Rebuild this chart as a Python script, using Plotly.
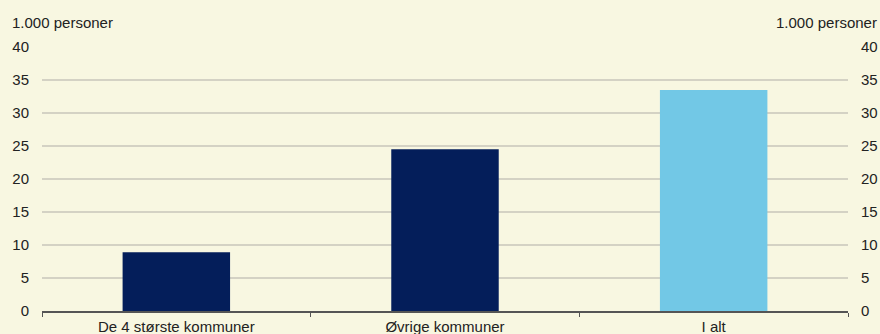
import plotly.graph_objects as go

categories = ["De 4 største kommuner", "Øvrige kommuner", "I alt"]
values = [8.9, 24.5, 33.5]
bar_colors = ["#041E5A", "#041E5A", "#72C8E6"]
y_ticks = [0, 5, 10, 15, 20, 25, 30, 35, 40]
unit_label = "1.000 personer"

bg = "#F8F7E1"
grid = "#D4D2C4"
font = dict(family="Liberation Sans, Arial, sans-serif", size=15, color="#222222")

fig = go.Figure()
fig.add_trace(go.Bar(x=categories, y=values, marker=dict(color=bar_colors, line=dict(width=0)),
                     width=0.4, showlegend=False, hoverinfo="x+y"))
fig.add_trace(go.Scatter(x=categories, y=values, yaxis="y2", mode="markers",
                         marker=dict(opacity=0), showlegend=False, hoverinfo="skip"))

axis_common = dict(range=[0, 40], tickvals=y_ticks, ticks="", tickfont=font,
                   fixedrange=True, zeroline=False, automargin=False)
fig.update_layout(
    width=880, height=334,
    margin=dict(l=42, r=32, t=47, b=23),
    paper_bgcolor=bg, plot_bgcolor=bg,
    font=font,
    bargap=0.6,
    xaxis=dict(showline=True, linecolor="#555555", linewidth=1.5,
               ticks="outside", tickson="boundaries", ticklen=4, tickcolor="#555555",
               tickfont=font, showgrid=False, fixedrange=True, ticklabelstandoff=1,
               automargin=False),
    yaxis=dict(showgrid=True, gridcolor=grid, gridwidth=1.5, ticklabelstandoff=12, **axis_common),
    yaxis2=dict(overlaying="y", side="right", showgrid=False, ticklabelstandoff=12, **axis_common),
    annotations=[
        dict(text=unit_label, xref="paper", yref="paper", x=0, y=1, xshift=-32, yshift=14,
             xanchor="left", yanchor="bottom", showarrow=False, font=font),
        dict(text=unit_label, xref="paper", yref="paper", x=1, y=1, xshift=31, yshift=14,
             xanchor="right", yanchor="bottom", showarrow=False, font=font),
    ],
)

fig.write_html("out.html", config={"displayModeBar": False},
               post_script="document.body.style.margin='0';")
